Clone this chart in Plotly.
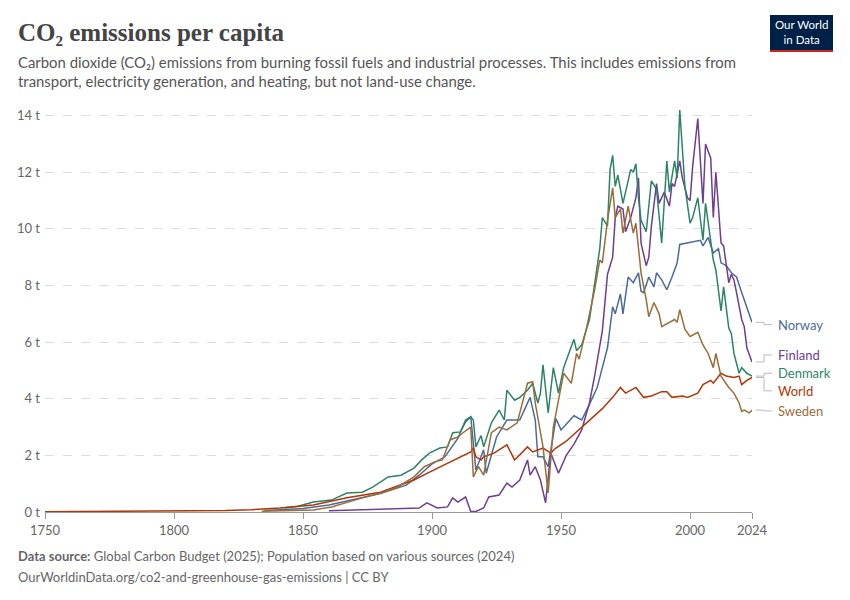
import plotly.graph_objects as go

norway_years = [1835,1850,1860,1870,1880,1890,1895,1900,1905,1910,1913,1915,1917,1920,1921,1925,1929,1934,1938,1940,1941,1943,1945,1948,1950,1955,1958,1961,1964,1966,1968,1970,1971,1973,1974,1976,1978,1980,1981,1982,1984,1986,1987,1989,1991,1993,1995,1996,1999,2002,2004,2005,2007,2009,2011,2012,2014,2016,2018,2020,2021,2024]
norway_vals = [0.05,0.12,0.25,0.45,0.65,0.95,1.3,1.7,1.95,2.6,3.25,3.36,1.48,2.2,1.37,2.65,3.25,3.25,4.05,3.25,1.95,1.95,1.6,3.3,2.9,3.4,3.25,3.8,4.4,5.1,5.8,7.25,7.0,7.7,7.0,8.3,8.1,8.45,7.8,7.75,8.3,7.95,8.45,8.2,7.85,8.3,8.8,9.45,9.5,9.55,9.6,9.4,9.7,9.15,9.3,8.8,8.7,8.45,8.3,7.75,7.5,6.7]

finland_years = [1860,1886,1895,1898,1902,1906,1908,1910,1913,1915,1917,1920,1922,1926,1929,1931,1934,1937,1938,1940,1942,1944,1946,1949,1952,1955,1958,1961,1963,1966,1967,1968,1970,1971,1972,1974,1975,1977,1979,1980,1981,1983,1984,1985,1987,1988,1990,1992,1993,1994,1996,1997,1999,2000,2001,2003,2005,2006,2008,2009,2010,2012,2013,2015,2016,2017,2018,2020,2021,2022,2024]
finland_vals = [0.04,0.1,0.14,0.32,0.14,0.18,0.5,0.35,0.53,0.02,0.02,0.14,0.53,0.6,1.02,0.88,1.13,1.84,1.3,1.6,1.13,0.32,2.08,1.37,2.0,2.4,2.9,3.85,4.8,6.4,7.4,8.4,9.0,10.4,10.8,10.7,9.9,10.4,11.1,11.8,9.5,8.7,9.0,10.1,11.6,10.9,11.3,10.8,11.6,11.5,12.4,11.8,11.1,11.0,12.2,13.9,10.9,13.0,12.5,10.4,12.0,9.5,9.4,8.1,8.4,8.2,7.75,6.8,6.55,5.8,5.3]

denmark_years = [1843,1848,1854,1861,1867,1873,1877,1883,1888,1893,1896,1899,1903,1906,1908,1911,1913,1915,1916,1917,1919,1920,1923,1926,1928,1929,1932,1934,1937,1939,1941,1942,1943,1945,1947,1949,1951,1955,1956,1958,1961,1963,1965,1966,1968,1969,1970,1971,1972,1974,1977,1978,1979,1980,1981,1983,1985,1987,1989,1991,1992,1994,1995,1996,1998,2000,2001,2003,2004,2005,2006,2008,2009,2010,2012,2013,2015,2016,2017,2019,2020,2022,2024]
denmark_vals = [0.15,0.2,0.35,0.42,0.67,0.7,0.88,1.24,1.3,1.55,1.84,2.08,2.26,2.3,2.8,2.83,3.18,3.36,3.25,2.3,2.7,2.3,3.15,3.6,3.25,4.3,3.95,4.05,4.3,4.55,3.85,4.2,5.2,3.5,5.1,4.2,5.1,6.1,5.7,5.9,6.8,8.1,9.3,10.4,10.1,12.1,12.6,11.5,11.9,10.9,12.1,12.0,12.3,11.1,10.3,9.9,11.7,11.4,9.5,12.4,11.3,12.4,11.8,14.2,11.5,10.2,10.4,11.1,10.3,9.6,10.9,9.5,8.9,8.55,7.1,7.95,6.5,6.3,5.6,4.9,5.1,4.9,4.8]

world_years = [1750,1775,1800,1820,1830,1841,1854,1867,1880,1893,1899,1906,1911,1915,1916,1917,1919,1920,1924,1929,1932,1937,1939,1943,1946,1948,1952,1955,1959,1963,1966,1970,1973,1975,1979,1982,1985,1989,1991,1993,1997,1999,2003,2005,2008,2009,2012,2014,2017,2019,2020,2022,2024]
world_vals = [0.01,0.015,0.03,0.05,0.08,0.14,0.25,0.5,0.7,1.13,1.41,1.73,1.95,2.12,2.26,1.95,1.84,1.95,2.08,2.37,1.84,2.3,2.12,2.26,2.08,2.26,2.5,2.75,3.1,3.4,3.65,4.05,4.4,4.2,4.4,4.05,4.1,4.25,4.25,4.05,4.1,4.05,4.2,4.5,4.65,4.55,4.9,4.8,4.75,4.8,4.5,4.65,4.75]

sweden_years = [1834,1845,1854,1861,1867,1873,1880,1886,1893,1897,1901,1904,1907,1910,1912,1915,1916,1918,1920,1923,1926,1929,1933,1937,1939,1940,1943,1945,1947,1949,1951,1954,1956,1957,1960,1963,1965,1966,1968,1970,1971,1973,1974,1976,1978,1979,1981,1983,1984,1986,1988,1989,1992,1994,1995,1996,1998,2000,2003,2005,2007,2009,2010,2012,2015,2017,2019,2020,2021,2023,2024]
sweden_vals = [0.03,0.05,0.07,0.18,0.35,0.5,0.67,0.85,1.24,1.6,1.77,1.84,2.55,2.65,2.8,3.0,1.24,1.6,1.3,2.8,3.0,2.9,3.15,4.55,4.6,3.85,2.3,0.67,3.0,3.9,4.9,4.55,5.6,5.4,6.55,7.85,8.9,8.8,10.3,11.45,10.4,10.7,9.85,10.8,9.85,10.2,8.45,7.5,6.9,7.4,7.0,6.55,6.7,6.8,6.7,7.15,6.45,6.2,6.35,5.9,5.6,5.1,5.6,4.8,4.4,4.2,3.85,3.55,3.6,3.5,3.6]

series = [
    ("Norway", norway_years, norway_vals, "#4C6A9C", 6.62),
    ("Finland", finland_years, finland_vals, "#6D3E91", 5.55),
    ("Denmark", denmark_years, denmark_vals, "#2C8465", 4.9),
    ("World", world_years, world_vals, "#B13507", 4.28),
    ("Sweden", sweden_years, sweden_vals, "#996D39", 3.57),
]

x_ticks = [1750, 1800, 1850, 1900, 1950, 2000, 2024]
y_ticks = [0, 2, 4, 6, 8, 10, 12, 14]

OFF = 8
W, H = 850, 600
PL, PR, PT, PB = 45, 752, 110, 512
L, T = PL - OFF, PT - OFF
R = W - (PR - OFF)
B = H - (PB - OFF)
PW, PH = W - L - R, H - T - B

def px(x):
    return (x - OFF - L) / PW

def py(y):
    return (H - B - (y - OFF)) / PH

fig = go.Figure()
shapes = []
annotations = []
for name, xs, ys, col, ly in series:
    fig.add_trace(go.Scatter(x=xs, y=ys, mode="lines", name=name,
                             line=dict(color=col, width=1.5)))
    end = ys[-1]
    x0, x1, x2 = px(756), px(764), px(772)
    shapes.append(dict(type="path", xref="paper", yref="y",
                       path=f"M {x0},{end} L {x1},{end} L {x1},{ly} L {x2},{ly}",
                       line=dict(color="#bbbbbb", width=1)))
    annotations.append(dict(x=px(776), y=ly, xref="paper", yref="y", text=name,
                            showarrow=False, xanchor="left",
                            font=dict(color=col, size=13, family="Lato")))

annotations += [
    dict(x=px(16), y=py(32), xref="paper", yref="paper", xanchor="left", yanchor="middle",
         text="<b>CO₂ emissions per capita</b>", showarrow=False,
         font=dict(family="Liberation Serif", size=25, color="#444444")),
    dict(x=px(16), y=py(51), xref="paper", yref="paper", xanchor="left", yanchor="top", align="left",
         text="Carbon dioxide (CO₂) emissions from burning fossil fuels and industrial processes. This includes emissions from<br>transport, electricity generation, and heating, but not land-use change.",
         showarrow=False, font=dict(family="Lato", size=14.9, color="#555555")),
    dict(x=px(16), y=py(556), xref="paper", yref="paper", xanchor="left", yanchor="middle", align="left",
         text="<b>Data source:</b> Global Carbon Budget (2025); Population based on various sources (2024)",
         showarrow=False, font=dict(family="Lato", size=13, color="#666666")),
    dict(x=px(16), y=py(577), xref="paper", yref="paper", xanchor="left", yanchor="middle", align="left",
         text="OurWorldinData.org/co2-and-greenhouse-gas-emissions | CC BY",
         showarrow=False, font=dict(family="Lato", size=13, color="#666666")),
    dict(x=px(801.5), y=py(32), xref="paper", yref="paper", xanchor="center", yanchor="middle",
         text="Our World<br>in Data", showarrow=False,
         font=dict(family="Lato", size=11.5, color="white")),
]
shapes += [
    dict(type="rect", xref="paper", yref="paper", x0=px(770), x1=px(833), y0=py(50), y1=py(15),
         fillcolor="#002147", line=dict(width=0)),
    dict(type="rect", xref="paper", yref="paper", x0=px(770), x1=px(833), y0=py(52), y1=py(50),
         fillcolor="#CE261E", line=dict(width=0)),
]

fig.update_layout(
    width=W, height=H, template="plotly_white", showlegend=False,
    margin=dict(l=L, r=R, t=T, b=B, autoexpand=False),
    plot_bgcolor="white", paper_bgcolor="white",
    font=dict(family="Lato", color="#666666"),
    shapes=shapes, annotations=annotations,
    xaxis=dict(range=[1750, 2024], tickvals=x_ticks, ticktext=[str(t) for t in x_ticks],
               showgrid=False, zeroline=False, showline=True, linecolor="#999999",
               ticks="outside", ticklen=6, tickcolor="#999999", tickfont=dict(size=13)),
    yaxis=dict(range=[0, 14.2], tickvals=y_ticks, ticktext=[f"{t} t" for t in y_ticks],
               showgrid=True, gridcolor="#dddddd", griddash="dash", zeroline=False,
               tickfont=dict(size=13), ticklabelstandoff=4),
)

fig.write_html("out.html")
